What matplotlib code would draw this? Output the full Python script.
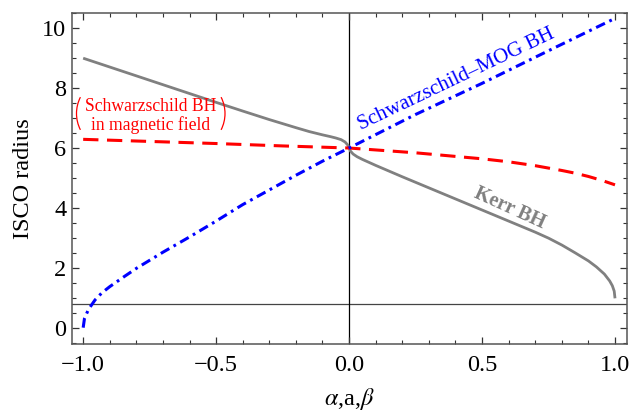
import matplotlib
matplotlib.use("Agg")
import matplotlib.pyplot as plt
from matplotlib.patches import Arc
from matplotlib.transforms import IdentityTransform
from matplotlib.ticker import MultipleLocator, FixedLocator

# Kerr BH ISCO radius versus spin a
kerr_x = [-1.0, -0.9, -0.8, -0.7, -0.6, -0.5, -0.4, -0.3, -0.25, -0.2, -0.15,
          -0.1, -0.07, -0.05, -0.03, -0.015, -0.005, 0.0, 0.005, 0.015, 0.03,
          0.05, 0.08, 0.1, 0.15, 0.2, 0.3, 0.4, 0.5, 0.6, 0.65, 0.7, 0.75,
          0.8, 0.85, 0.9, 0.93, 0.96, 0.98, 0.99, 0.997, 1.0]
kerr_r = [9.0, 8.705, 8.41, 8.115, 7.82, 7.525, 7.235, 6.95, 6.815, 6.68, 6.55,
          6.44, 6.38, 6.335, 6.28, 6.2, 6.1, 6.0, 5.9, 5.8, 5.71,
          5.62, 5.5, 5.42, 5.23, 5.04, 4.67, 4.30, 3.93, 3.56, 3.375, 3.19, 2.99,
          2.76, 2.50, 2.23, 2.03, 1.79, 1.56, 1.40, 1.22, 0.98]

# Schwarzschild BH in magnetic field, versus beta
mag_x = [-1.0, -0.75, -0.5, -0.25, 0.0, 0.25, 0.5, 0.6, 0.7, 0.8, 0.85, 0.9,
         0.95, 1.0]
mag_r = [6.29, 6.22, 6.15, 6.07, 6.0, 5.84, 5.64, 5.54, 5.41, 5.25, 5.16, 5.05,
         4.92, 4.77]

# Schwarzschild-MOG BH, versus alpha
mog_x = [-1.0, -0.995, -0.98, -0.955, -0.93, -0.9, -0.85, -0.8, -0.7, -0.6,
         -0.5, -0.4, -0.3, -0.2, -0.1, 0.0, 0.25, 0.5, 0.75, 1.0]
mog_r = [0.0, 0.31, 0.61, 0.93, 1.16, 1.37, 1.68, 1.98, 2.52, 3.03,
         3.56, 4.11, 4.60, 5.09, 5.56, 6.0, 7.12, 8.16, 9.25, 10.33]

x_ticks = [-1.0, -0.5, 0.0, 0.5, 1.0]
y_ticks = [0, 2, 4, 6, 8, 10]

plt.rcParams["font.family"] = ["Liberation Serif", "DejaVu Serif"]
plt.rcParams["mathtext.fontset"] = "stix"

W, H = 631, 416
fig = plt.figure(figsize=(W / 100, H / 100), dpi=100)
ax = fig.add_axes([0.1141, 0.1724, 0.8791, 0.7971])

ax.set_xlim(-1.042, 1.044)
ax.set_ylim(-0.555, 10.52)

# coordinate axes
ax.axhline(0.79, color="#444444", lw=0.9, zorder=1)
ax.axvline(0.0, color="black", lw=0.9, zorder=1)

ax.plot(kerr_x, kerr_r, color="#808080", lw=2.0, zorder=3,
        solid_capstyle="butt")
ax.plot(mag_x, mag_r, color="#ff0000", lw=2.2, dashes=(5.0, 2.8), zorder=4)
ax.plot(mog_x, mog_r, color="#0000ff", lw=2.2,
        dashes=(3.2, 1.6, 0.9, 1.6), zorder=5)

# curve labels
ax.text(0.405, 8.28, "Schwarzschild\u2013MOG BH", color="#0000ff",
        fontsize=15, rotation=25.5, ha="center", va="center",
        rotation_mode="anchor")
ax.text(0.605, 3.99, "Kerr BH", color="#808080", fontsize=14.5,
        fontweight="bold", rotation=-24.5, ha="center", va="center",
        rotation_mode="anchor")
ax.text(-0.745, 7.08, "Schwarzschild BH\nin magnetic field", color="#ff0000",
        fontsize=12.7, ha="center", va="center", linespacing=1.08)

# parentheses around the magnetic-field label (pixel units)
pr_r, pr_th = 36.0, 27.0
pr_y = H - 113.5
for cx, t1, t2 in [(76.5 + pr_r, 180 - pr_th, 180 + pr_th),
                   (225.0 - pr_r, -pr_th, pr_th)]:
    fig.patches.append(Arc((cx, pr_y), 2 * pr_r, 2 * pr_r, theta1=t1,
                           theta2=t2, transform=IdentityTransform(),
                           color="#ff0000", lw=0.9))

# frame and ticks
for sp in ax.spines.values():
    sp.set_color("#555555")
    sp.set_linewidth(1.1)
ax.xaxis.set_major_locator(FixedLocator(x_ticks))
ax.xaxis.set_minor_locator(MultipleLocator(0.1))
ax.yaxis.set_major_locator(FixedLocator(y_ticks))
ax.yaxis.set_minor_locator(MultipleLocator(0.5))
ax.set_xticklabels([f"{v:.1f}".replace("-", "\u2212") for v in x_ticks])
ax.set_yticklabels([str(v) for v in y_ticks])
ax.tick_params(which="both", direction="in", top=True, right=True,
               color="#333333", labelsize=17.5)
ax.tick_params(which="major", length=5, width=0.9)
ax.tick_params(which="minor", length=3, width=0.8)
ax.tick_params(axis="x", pad=8)
ax.tick_params(axis="y", pad=4)

ax.set_xlabel(r"$\alpha$,a,$\beta$", fontsize=17.5, labelpad=7)
ax.set_ylabel("ISCO radius", fontsize=17.5, labelpad=6)

fig.savefig("out.png", dpi=100)
